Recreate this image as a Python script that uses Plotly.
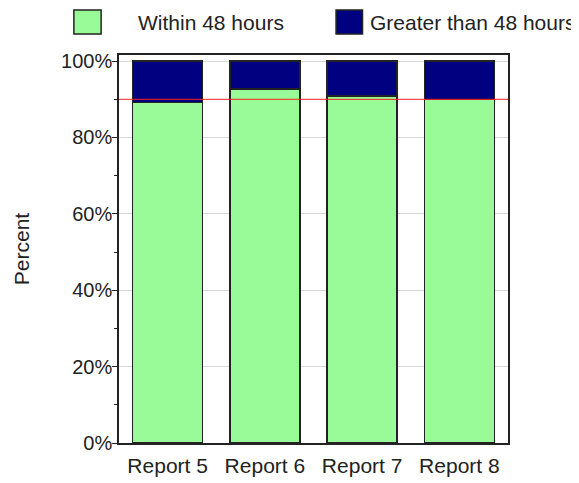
import plotly.graph_objects as go

reports = ["Report 5", "Report 6", "Report 7", "Report 8"]
within_48 = [89.1, 92.7, 90.9, 90.0]
over_48 = [100 - v for v in within_48]
target = 90

GREEN = "#98fb98"
NAVY = "#000080"
FONT = "Liberation Sans, Arial, sans-serif"
TEXT = "#222222"

fig = go.Figure()
fig.add_bar(x=reports, y=within_48, name="Within 48 hours",
            marker=dict(color=GREEN, line=dict(color=TEXT, width=1.5)))
fig.add_bar(x=reports, y=over_48, name="Greater than 48 hours",
            marker=dict(color=NAVY, line=dict(color=TEXT, width=1.5)))

# target line at 90%
fig.add_shape(type="line", xref="paper", x0=0, x1=1, yref="y", y0=target, y1=target,
              line=dict(color="#ff2020", width=1), layer="above")

# hand-made legend with boxed swatches
fig.add_shape(type="rect", xref="paper", yref="paper", x0=-0.116, x1=-0.046,
              y0=1.054, y1=1.116, fillcolor=GREEN, line=dict(color=TEXT, width=1.5))
fig.add_annotation(text="Within 48 hours", xref="paper", yref="paper", x=0.044, y=1.085,
                   xanchor="left", yanchor="middle", showarrow=False,
                   font=dict(size=21, color=TEXT, family=FONT))
fig.add_shape(type="rect", xref="paper", yref="paper", x0=0.558, x1=0.626,
              y0=1.054, y1=1.116, fillcolor=NAVY, line=dict(color=TEXT, width=1.5))
fig.add_annotation(text="Greater than 48 hours", xref="paper", yref="paper", x=0.640, y=1.085,
                   xanchor="left", yanchor="middle", showarrow=False,
                   font=dict(size=21, color=TEXT, family=FONT))

# page body has an 8px margin, so the figure is sized 8px smaller
fig.update_layout(
    barmode="stack",
    bargap=0.28,
    width=571, height=475,
    margin=dict(l=111, r=71, t=47, b=40),
    paper_bgcolor="white",
    plot_bgcolor="white",
    showlegend=False,
    font=dict(family=FONT, size=20, color=TEXT),
    xaxis=dict(showline=True, linecolor=TEXT, linewidth=1.5, mirror=True,
               ticks="", tickfont=dict(size=21), ticklabelstandoff=3,
               automargin=False),
    yaxis=dict(range=[0, 101.6], tickvals=[0, 20, 40, 60, 80, 100],
               ticktext=["0%", "20%", "40%", "60%", "80%", "100%"],
               showgrid=True, gridcolor="#d8d8d8", gridwidth=1,
               showline=True, linecolor=TEXT, linewidth=1.5, mirror=True,
               ticks="outside", ticklen=5, tickcolor=TEXT,
               minor=dict(tickvals=[10, 30, 50, 70, 90], ticks="outside", ticklen=3,
                          tickcolor=TEXT, showgrid=False),
               zeroline=False, tickfont=dict(size=20), ticklabelstandoff=-4,
               automargin=False,
               title=dict(text="Percent", font=dict(size=21), standoff=26)),
)

fig.write_html("out.html")
